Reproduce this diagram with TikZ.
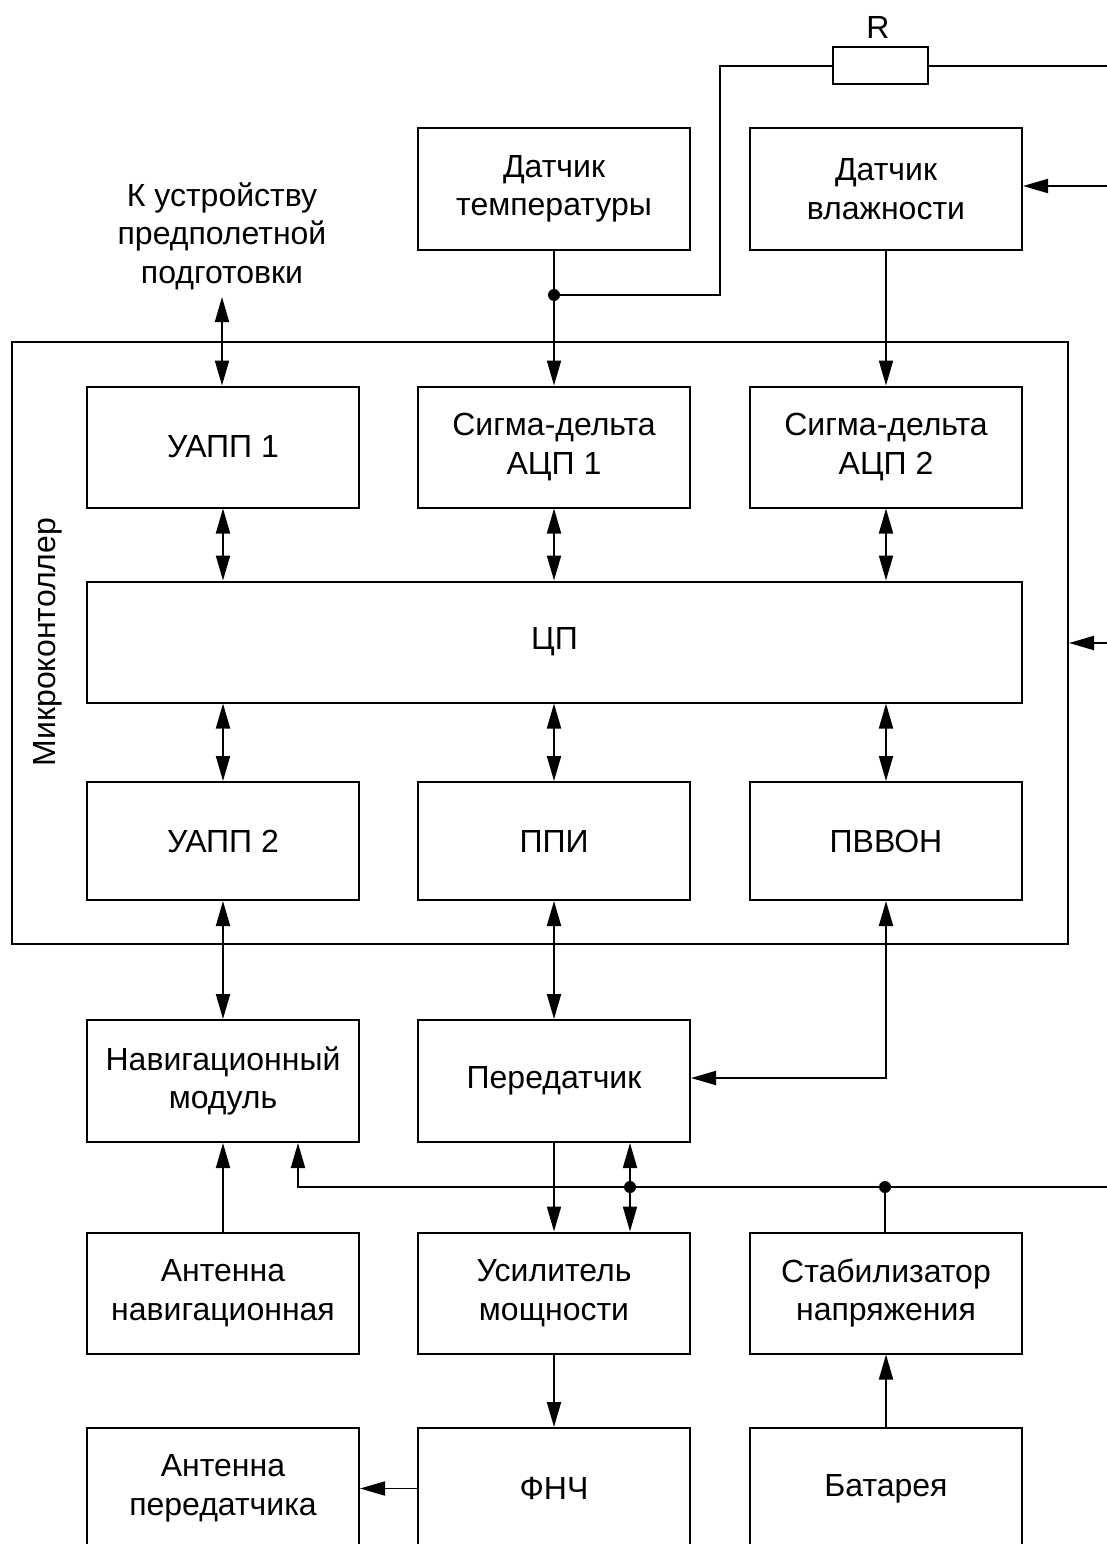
\documentclass[tikz,border=0pt]{standalone}
\usepackage{fontspec}
\setmainfont{Liberation Sans}
\usetikzlibrary{arrows.meta,calc}
\begin{document}
\begin{tikzpicture}[x=1pt,y=-1pt,
  txt/.style={font=\fontsize{32}{38.5}\selectfont},
  blk/.style={draw,line width=2pt,minimum width=272pt,minimum height=121pt,align=center,inner sep=0pt,txt},
  wire/.style={line width=1.9pt},
  arr/.style={wire,-{Triangle[length=25pt,width=14pt]}},
  barr/.style={wire,{Triangle[length=25pt,width=14pt]}-{Triangle[length=25pt,width=14pt]}},
  dot/.style={circle,fill,inner sep=0pt,minimum size=12pt}]
\useasboundingbox (0,0) rectangle (1107,1544);
\begin{scope}
\clip (0,0) rectangle (1107,1544);
% outer microcontroller
\node[draw,line width=2pt,minimum width=1056pt,minimum height=602pt,inner sep=0pt] (mc) at (540,643) {};
\node[rotate=90,txt] (mclbl) at (48,642) {Микроконтоллер};
% sensors
\node[blk] (dt) at (554,189) {Датчик\\температуры};
\node[blk] (dv) at (886,189) {Датчик\\влажности};
\node[draw,line width=2pt,minimum width=95pt,minimum height=37pt,inner sep=0pt] (res) at (880,66) {};
\node[txt] (rl) at (878,27) {R};
\node[align=center,txt] (ext) at (222,236) {К устройству\\предполетной\\подготовки};
% row 1
\node[blk] (uapp1) at (223,447) {УАПП 1};
\node[blk] (sd1) at (554,447) {Сигма-дельта\\АЦП 1};
\node[blk] (sd2) at (886,447) {Сигма-дельта\\АЦП 2};
% CPU
\node[blk,minimum width=935pt] (cp) at (554.5,642) {ЦП};
% row 3
\node[blk,minimum height=118pt] (uapp2) at (223,841) {УАПП 2};
\node[blk,minimum height=118pt] (ppi) at (554,841) {ППИ};
\node[blk,minimum height=118pt] (pvvon) at (886,841) {ПВВОН};
% below
\node[blk,minimum height=122pt] (nav) at (223,1081) {Навигационный\\модуль};
\node[blk,minimum height=122pt] (per) at (554,1081) {Передатчик};
\node[blk] (antnav) at (223,1293) {Антенна\\навигационная};
\node[blk] (usil) at (554,1293) {Усилитель\\мощности};
\node[blk] (stab) at (886,1293) {Стабилизатор\\напряжения};
\node[blk] (antper) at (223,1488.5) {Антенна\\передатчика};
\node[blk] (fnch) at (554,1488.5) {ФНЧ};
\node[blk] (bat) at (886,1488.5) {Батарея};
% coordinates
\coordinate (j1) at (554,295);
\coordinate (c1) at (720,295);
\coordinate (c2) at (720,66);
\coordinate (rEnd) at (1107,66);
\coordinate (dvIn) at (1107,186);
\coordinate (mcIn) at (1107,643);
\coordinate (extB) at (222,297);
\coordinate (pvc) at (886,1078);
\coordinate (busR) at (1107,1187);
\coordinate (busL) at (298,1187);
\coordinate (j2) at (630,1187);
\coordinate (j3) at (885,1187);
% connectors
\draw[barr] (extB) -- (uapp1.north -| extB);
\draw[arr] (dt.south) -- (sd1.north);
\draw[wire] (j1) -- (c1) -- (c2) -- (res.west);
\draw[wire] (res.east) -- (rEnd);
\node[dot] at (j1) {};
\draw[arr] (dvIn) -- (dv.east |- dvIn);
\draw[arr] (dv.south) -- (sd2.north);
\draw[barr] (uapp1.south) -- (cp.north -| uapp1.south);
\draw[barr] (sd1.south) -- (cp.north -| sd1.south);
\draw[barr] (sd2.south) -- (cp.north -| sd2.south);
\draw[barr] (cp.south -| uapp2.north) -- (uapp2.north);
\draw[barr] (cp.south -| ppi.north) -- (ppi.north);
\draw[barr] (cp.south -| pvvon.north) -- (pvvon.north);
\draw[arr] (mcIn) -- (mc.east |- mcIn);
\draw[barr] (uapp2.south) -- (nav.north);
\draw[barr] (ppi.south) -- (per.north);
\draw[barr] (pvvon.south) -- (pvc) -- (per.east |- pvc);
\draw[arr] (antnav.north) -- (nav.south);
\draw[arr] (busR) -- (busL) -- (nav.south -| busL);
\draw[arr] (per.south) -- (usil.north);
\draw[arr] (j2) -- (per.south -| j2);
\draw[arr] (j2) -- (usil.north -| j2);
\draw[wire] (stab.north -| j3) -- (j3);
\node[dot] at (j2) {};
\node[dot] at (j3) {};
\draw[arr] (usil.south) -- (fnch.north);
\draw[arr] (fnch.west) -- (antper.east);
\draw[arr] (bat.north) -- (stab.south);
\end{scope}
\end{tikzpicture}
\end{document}
